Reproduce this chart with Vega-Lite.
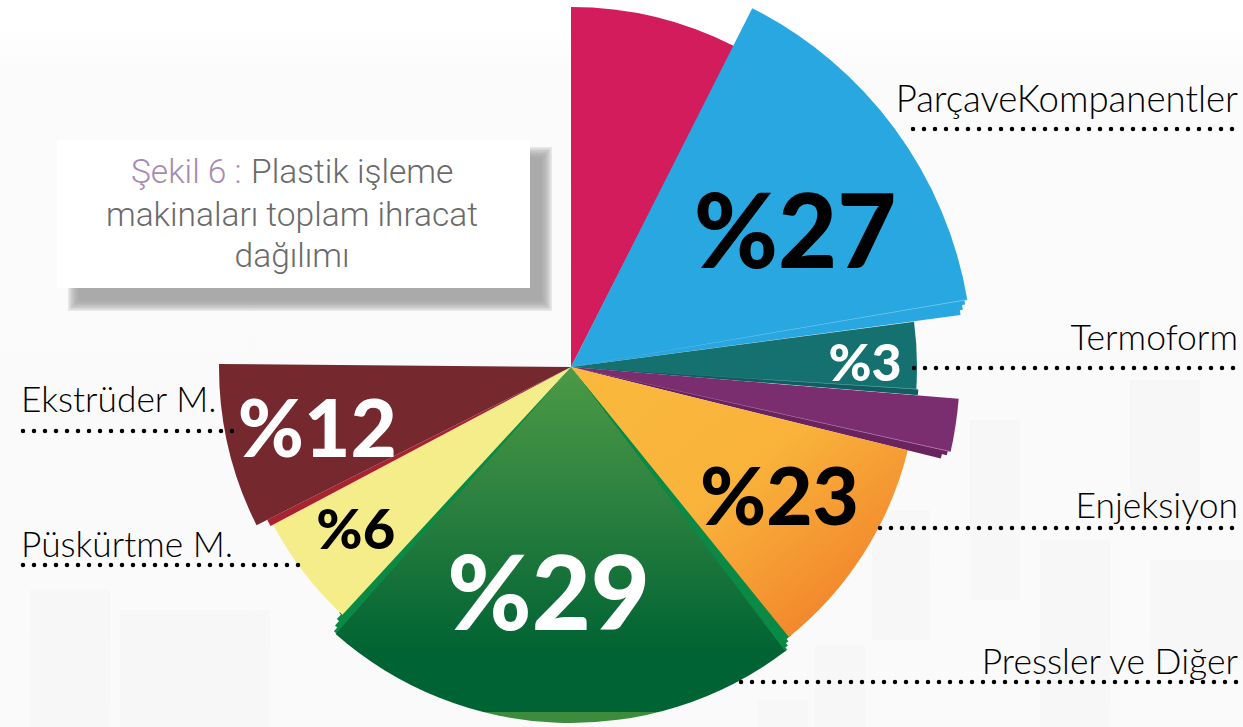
{
"$schema":"https://vega.github.io/schema/vega-lite/v6.json",
"width":1142,"height":720,
"autosize":{"type":"none"},
"padding":{"left":0,"top":7,"right":101,"bottom":0},
"background":"#ffffff",
"config":{"view":{"stroke":null}},
"datasets":{
"panels":[
{"x0":0,"x1":1243,"y0":30,"y1":727}
],
"tiles":[
{"x0":30,"x1":110,"y0":590,"y1":727},{"x0":120,"x1":270,"y0":610,"y1":727},
{"x0":815,"x1":865,"y0":645,"y1":727},{"x0":758,"x1":808,"y0":700,"y1":727},{"x0":872,"x1":930,"y0":510,"y1":640},
{"x0":970,"x1":1020,"y0":420,"y1":600},{"x0":1040,"x1":1110,"y0":540,"y1":727},{"x0":1130,"x1":1200,"y0":380,"y1":520},{"x0":1150,"x1":1243,"y0":560,"y1":660}
],
"shadow":[
{"x0":68,"x1":552,"y0":147,"y1":311},{"x0":69.5,"x1":550.5,"y0":148.5,"y1":309.5},{"x0":71,"x1":549,"y0":150,"y1":308},{"x0":72.5,"x1":547.5,"y0":151.5,"y1":306.5},{"x0":74,"x1":546,"y0":153,"y1":305},{"x0":75.5,"x1":544.5,"y0":154.5,"y1":303.5},{"x0":77,"x1":543,"y0":156,"y1":302},{"x0":78.5,"x1":541.5,"y0":157.5,"y1":300.5}
],
"card":[{"x0":57,"x1":530,"y0":140,"y1":288}],
"slices":[
{"name":"fold green","start":140.6,"end":143.1,"r":347},
{"name":"fold green","start":141.6,"end":143.1,"r":350},
{"name":"fold green","start":142.1,"end":143.1,"r":353},
{"name":"fold green","start":142.6,"end":143.1,"r":356},
{"name":"fold green","start":221.3,"end":223.3,"r":338},
{"name":"fold green","start":221.3,"end":222.9,"r":344},
{"name":"fold green","start":221.3,"end":222.4,"r":350},
{"name":"fold green","start":221.3,"end":221.9,"r":355},
{"name":"fold blue","start":80,"end":82.4,"r":393},
{"name":"fold blue","start":80,"end":81.7,"r":396},
{"name":"fold blue","start":80,"end":81,"r":399},
{"name":"Crimson","start":0,"end":27,"r":360},
{"name":"Parça ve Kompanentler","start":26.8,"end":80.4,"r":402},
{"name":"Termoform","start":82.5,"end":94.6,"r":346},
{"name":"fold teal","start":93.7,"end":94.6,"r":348},
{"name":"fold purple","start":102.4,"end":103.9,"r":381},
{"name":"fold purple","start":102.4,"end":103.2,"r":386},
{"name":"Purple","start":94.7,"end":102.6,"r":389},
{"name":"Püskürtme M.","start":222.7,"end":242.1,"r":337},
{"name":"fold red","start":242.1,"end":243.3,"r":340},
{"name":"Ekstrüder M.","start":243.3,"end":270.5,"r":352},
{"name":"crease blue","start":80.3,"end":80.42,"r":402},
{"name":"crease purple","start":102.5,"end":102.62,"r":389},
{"name":"crease teal","start":93.6,"end":93.72,"r":347}
],
"enjeksiyon":[{"name":"Enjeksiyon","start":103.9,"end":141.1,"r":347}],
"pressler":[{"name":"Pressler ve Diğer","start":143,"end":221.4,"r":356}],
"p27":[{"t":"%27","a":59.9,"lr":259}],
"p3":[{"t":"%3","a":89.6,"lr":294}],
"p23":[{"t":"%23","a":122.8,"lr":248}],
"p29":[{"t":"%29","a":185.5,"lr":233}],
"p12":[{"t":"%12","a":255.5,"lr":262}],
"p6":[{"t":"%6","a":232.6,"lr":271}],
"leaders":[
{"label":"Termoform","x0":914,"x1":1238,"y":368,"ty":350},
{"label":"Enjeksiyon","x0":880,"x1":1238,"y":528,"ty":518},
{"label":"Pressler ve Diğer","x0":741,"x1":1238,"y":682,"ty":674}
],
"leadersTop":[
{"label":"ParçaveKompanentler","x0":913,"x1":1238,"y":129,"ty":112}
],
"leadersLeft":[
{"label":"Ekstrüder M.","x0":23,"x1":238,"y":431,"ty":412},
{"label":"Püskürtme M.","x0":23,"x1":302,"y":565,"ty":557}
],
"titleGray":[
{"t":"makinaları toplam ihracat","x":292,"y":226},
{"t":"dağılımı","x":292,"y":267}
],
"titleHead":[{"t":"Plastik işleme","x":251,"y":183}],
"titlePurple":[{"t":"Şekil 6 :","x":131,"y":183}]
},
"layer":[
{"data":{"name":"panels"},"mark":{"type":"rect","color":{"gradient":"linear","x1":0,"y1":0,"x2":0,"y2":1,"stops":[{"offset":0,"color":"#ffffff"},{"offset":0.05,"color":"#fbfbfb"},{"offset":1,"color":"#fafafa"}]}},
"encoding":{"x":{"field":"x0","type":"quantitative","scale":{"domain":[0,1142],"nice":false},"axis":null},"x2":{"field":"x1"},"y":{"field":"y0","type":"quantitative","scale":{"domain":[727,7],"nice":false},"axis":null},"y2":{"field":"y1"}}},
{"data":{"name":"tiles"},"mark":{"type":"rect","color":"#f5f5f5","opacity":0.6},
"encoding":{"x":{"field":"x0","type":"quantitative","scale":{"domain":[0,1142],"nice":false},"axis":null},"x2":{"field":"x1"},"y":{"field":"y0","type":"quantitative","scale":{"domain":[727,7],"nice":false},"axis":null},"y2":{"field":"y1"}}},
{"data":{"name":"shadow"},"mark":{"type":"rect","color":"#9a9a9a","opacity":0.2},
"encoding":{"x":{"field":"x0","type":"quantitative","scale":{"domain":[0,1142],"nice":false},"axis":null},"x2":{"field":"x1"},"y":{"field":"y0","type":"quantitative","scale":{"domain":[727,7],"nice":false},"axis":null},"y2":{"field":"y1"}}},
{"data":{"name":"card"},"mark":{"type":"rect","color":"#ffffff"},
"encoding":{"x":{"field":"x0","type":"quantitative","scale":{"domain":[0,1142],"nice":false},"axis":null},"x2":{"field":"x1"},"y":{"field":"y0","type":"quantitative","scale":{"domain":[727,7],"nice":false},"axis":null},"y2":{"field":"y1"}}},
{"data":{"name":"slices"},"mark":{"type":"arc"},
"encoding":{
"theta":{"field":"start","type":"quantitative","stack":null,"scale":{"domain":[0,360],"range":[0,6.283185]}},
"theta2":{"field":"end"},
"radius":{"field":"r","type":"quantitative","scale":{"type":"linear","domain":[0,500],"range":[0,500]}},
"color":{"field":"name","type":"nominal","legend":null,"scale":{
"domain":["fold green","fold blue","Crimson","Parça ve Kompanentler","Termoform","fold teal","Purple","fold purple","Püskürtme M.","fold red","Ekstrüder M.","crease blue","crease purple","crease teal"],
"range":["#0a8a45","#29a7e1","#d21c5c","#29a7e1","#14716f","#0f5d5e","#7b2e6f","#69245f","#f5ec8a","#a8232f","#75282d","#7fcbee","#b98ab0","#5fa3a3"]}}}},
{"data":{"name":"enjeksiyon"},"mark":{"type":"arc","color":{"gradient":"linear","x1":0,"y1":0,"x2":1,"y2":1,"stops":[{"offset":0,"color":"#f9b93d"},{"offset":0.45,"color":"#f9b33b"},{"offset":0.85,"color":"#f2862c"},{"offset":1,"color":"#f1802b"}]}},
"encoding":{
"theta":{"field":"start","type":"quantitative","stack":null},"theta2":{"field":"end"},
"radius":{"field":"r","type":"quantitative"}}},
{"data":{"name":"pressler"},"mark":{"type":"arc","color":{"gradient":"linear","x1":0,"y1":0,"x2":0,"y2":1,"stops":[{"offset":0,"color":"#4c9a46"},{"offset":0.35,"color":"#2f8340"},{"offset":0.8,"color":"#006333"},{"offset":0.968,"color":"#006333"},{"offset":0.97,"color":"#3d8b3d"},{"offset":1,"color":"#3d8b3d"}]}},
"encoding":{
"theta":{"field":"start","type":"quantitative","stack":null},"theta2":{"field":"end"},
"radius":{"field":"r","type":"quantitative"}}},
{"data":{"name":"leaders"},"mark":{"type":"rule","color":"#000000","strokeWidth":4.5,"strokeCap":"round","strokeDash":[0,11]},
"encoding":{"x":{"field":"x0","type":"quantitative","scale":{"domain":[0,1142],"nice":false},"axis":null},"x2":{"field":"x1"},"y":{"field":"y","type":"quantitative","scale":{"domain":[727,7],"nice":false},"axis":null}}},
{"data":{"name":"leadersTop"},"mark":{"type":"rule","color":"#000000","strokeWidth":4.5,"strokeCap":"round","strokeDash":[0,11]},
"encoding":{"x":{"field":"x0","type":"quantitative","scale":{"domain":[0,1142],"nice":false},"axis":null},"x2":{"field":"x1"},"y":{"field":"y","type":"quantitative","scale":{"domain":[727,7],"nice":false},"axis":null}}},
{"data":{"name":"leadersLeft"},"mark":{"type":"rule","color":"#000000","strokeWidth":4.5,"strokeCap":"round","strokeDash":[0,11]},
"encoding":{"x":{"field":"x0","type":"quantitative","scale":{"domain":[0,1142],"nice":false},"axis":null},"x2":{"field":"x1"},"y":{"field":"y","type":"quantitative","scale":{"domain":[727,7],"nice":false},"axis":null}}},
{"data":{"name":"leaders"},"mark":{"type":"text","align":"right","baseline":"alphabetic","font":"Lato","fontWeight":300,"fontSize":35.5,"color":"#000000"},
"encoding":{"x":{"field":"x1","type":"quantitative","scale":{"domain":[0,1142],"nice":false},"axis":null},"y":{"field":"ty","type":"quantitative","scale":{"domain":[727,7],"nice":false},"axis":null},"text":{"field":"label"}}},
{"data":{"name":"leadersTop"},"mark":{"type":"text","align":"right","baseline":"alphabetic","font":"Lato","fontWeight":300,"fontSize":36.6,"color":"#000000"},
"encoding":{"x":{"field":"x1","type":"quantitative","scale":{"domain":[0,1142],"nice":false},"axis":null},"y":{"field":"ty","type":"quantitative","scale":{"domain":[727,7],"nice":false},"axis":null},"text":{"field":"label"}}},
{"data":{"name":"leadersLeft"},"mark":{"type":"text","align":"left","baseline":"alphabetic","font":"Lato","fontWeight":300,"fontSize":35.3,"color":"#000000","dx":-2},
"encoding":{"x":{"field":"x0","type":"quantitative","scale":{"domain":[0,1142],"nice":false},"axis":null},"y":{"field":"ty","type":"quantitative","scale":{"domain":[727,7],"nice":false},"axis":null},"text":{"field":"label"}}},
{"data":{"name":"titleGray"},"mark":{"type":"text","align":"center","baseline":"alphabetic","font":"Roboto","fontWeight":300,"fontSize":33.5,"color":"#6a6a6a"},
"encoding":{"x":{"field":"x","type":"quantitative","scale":{"domain":[0,1142],"nice":false},"axis":null},"y":{"field":"y","type":"quantitative","scale":{"domain":[727,7],"nice":false},"axis":null},"text":{"field":"t"}}},
{"data":{"name":"titleHead"},"mark":{"type":"text","align":"left","baseline":"alphabetic","font":"Roboto","fontWeight":300,"fontSize":33.5,"color":"#6a6a6a"},
"encoding":{"x":{"field":"x","type":"quantitative","scale":{"domain":[0,1142],"nice":false},"axis":null},"y":{"field":"y","type":"quantitative","scale":{"domain":[727,7],"nice":false},"axis":null},"text":{"field":"t"}}},
{"data":{"name":"titlePurple"},"mark":{"type":"text","align":"left","baseline":"alphabetic","font":"Roboto","fontWeight":300,"fontSize":33.5,"color":"#a58bb2"},
"encoding":{"x":{"field":"x","type":"quantitative","scale":{"domain":[0,1142],"nice":false},"axis":null},"y":{"field":"y","type":"quantitative","scale":{"domain":[727,7],"nice":false},"axis":null},"text":{"field":"t"}}},
{"data":{"name":"p27"},"mark":{"type":"text","font":"Lato","fontWeight":900,"fontSize":102,"color":"#000000","align":"center","baseline":"middle"},
"encoding":{"theta":{"field":"a","type":"quantitative","stack":null},"radius":{"field":"lr","type":"quantitative"},"text":{"field":"t"}}},
{"data":{"name":"p3"},"mark":{"type":"text","font":"Lato","fontWeight":900,"fontSize":52,"color":"#ffffff","align":"center","baseline":"middle"},
"encoding":{"theta":{"field":"a","type":"quantitative","stack":null},"radius":{"field":"lr","type":"quantitative"},"text":{"field":"t"}}},
{"data":{"name":"p23"},"mark":{"type":"text","font":"Lato","fontWeight":900,"fontSize":80,"color":"#000000","align":"center","baseline":"middle"},
"encoding":{"theta":{"field":"a","type":"quantitative","stack":null},"radius":{"field":"lr","type":"quantitative"},"text":{"field":"t"}}},
{"data":{"name":"p29"},"mark":{"type":"text","font":"Lato","fontWeight":900,"fontSize":102,"color":"#ffffff","align":"center","baseline":"middle"},
"encoding":{"theta":{"field":"a","type":"quantitative","stack":null},"radius":{"field":"lr","type":"quantitative"},"text":{"field":"t"}}},
{"data":{"name":"p12"},"mark":{"type":"text","font":"Lato","fontWeight":900,"fontSize":80,"color":"#ffffff","align":"center","baseline":"middle"},
"encoding":{"theta":{"field":"a","type":"quantitative","stack":null},"radius":{"field":"lr","type":"quantitative"},"text":{"field":"t"}}},
{"data":{"name":"p6"},"mark":{"type":"text","font":"Lato","fontWeight":900,"fontSize":56,"color":"#000000","align":"center","baseline":"middle"},
"encoding":{"theta":{"field":"a","type":"quantitative","stack":null},"radius":{"field":"lr","type":"quantitative"},"text":{"field":"t"}}}
]
}
